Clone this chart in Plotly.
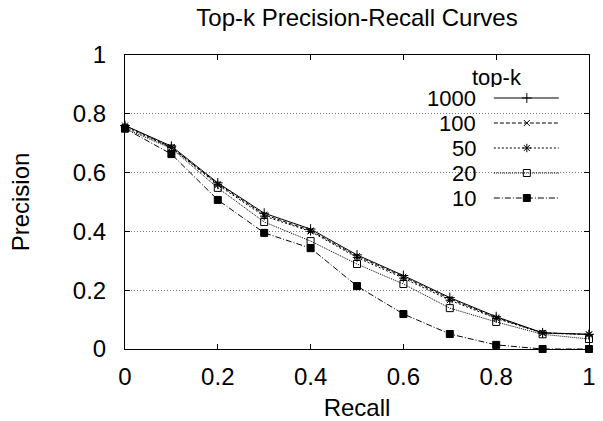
import plotly.graph_objects as go

recall = [0.0, 0.1, 0.2, 0.3, 0.4, 0.5, 0.6, 0.7, 0.8, 0.9, 1.0]
p_1000 = [0.76, 0.69, 0.565, 0.462, 0.408, 0.32, 0.25, 0.175, 0.11, 0.055, 0.05]
p_100 = [0.76, 0.686, 0.562, 0.457, 0.403, 0.316, 0.246, 0.171, 0.107, 0.055, 0.05]
p_50 = [0.755, 0.685, 0.558, 0.452, 0.4, 0.311, 0.241, 0.166, 0.104, 0.054, 0.049]
p_20 = [0.75, 0.682, 0.548, 0.432, 0.367, 0.289, 0.221, 0.139, 0.092, 0.05, 0.034]
p_10 = [0.75, 0.663, 0.507, 0.395, 0.343, 0.214, 0.119, 0.051, 0.014, 0.0, 0.0]
series_names = ["1000", "100", "50", "20", "10"]
tick_vals = [0, 0.2, 0.4, 0.6, 0.8, 1]
tick_text = ["0", "0.2", "0.4", "0.6", "0.8", "1"]

series = [p_1000, p_100, p_50, p_20, p_10]
dashes = ["solid", "4px,2px", "2px,2px", "1px,1px", "6px,2px,1px,2px"]
symbols = ["cross-thin", "x-thin", "asterisk", "square-open", "square"]
msizes = [7, 6, 7, 7, 7]

FONT = "Liberation Sans, Arial, Helvetica, sans-serif"
FS = 24
LFS = 22
fig = go.Figure()

for name, vals, d, s, ms in zip(series_names, series, dashes, symbols, msizes):
    fig.add_trace(go.Scatter(
        x=recall, y=vals, mode="lines+markers", name=name,
        line=dict(color="black", width=1, dash=d),
        marker=dict(symbol=s, size=ms, color="black",
                    line=dict(color="black", width=1)),
        cliponaxis=False, showlegend=False,
    ))

# Manual gnuplot-style key (text left of sample), in an overlay axis [0,1]
leg_rows = [0.8537, 0.7687, 0.6837, 0.5986, 0.5136]
sx0, sx1, smid, tx = 0.795, 0.935, 0.866, 0.759
for name, yr, d, s, ms in zip(series_names, leg_rows, dashes, symbols, msizes):
    fig.add_trace(go.Scatter(
        x=[sx0, sx1], y=[yr, yr], mode="lines", xaxis="x2", yaxis="y2",
        line=dict(color="black", width=1, dash=d), showlegend=False,
        hoverinfo="skip"))
    fig.add_trace(go.Scatter(
        x=[smid], y=[yr], mode="markers", xaxis="x2", yaxis="y2",
        marker=dict(symbol=s, size=ms, color="black",
                    line=dict(color="black", width=1)),
        showlegend=False, hoverinfo="skip"))
    fig.add_annotation(x=tx, y=yr, xref="paper", yref="paper", text=name,
                       showarrow=False, xanchor="right", yanchor="middle",
                       height=20, borderpad=0,
                       font=dict(size=LFS, color="black", family=FONT))
fig.add_annotation(x=0.802, y=0.925, xref="paper", yref="paper", text="top-k",
                   showarrow=False, xanchor="center", yanchor="middle",
                   height=20, borderpad=0,
                   font=dict(size=LFS, color="black", family=FONT))
fig.add_shape(type="rect", xref="paper", yref="paper", x0=0.631, x1=0.966,
              y0=0.473, y1=0.976, fillcolor="white", line=dict(width=0),
              layer="between")

axis_common = dict(range=[0, 1], tickvals=tick_vals, ticktext=tick_text,
                   showline=True, linecolor="black", linewidth=1,
                   mirror="ticks", ticks="inside", ticklen=5, tickcolor="black",
                   zeroline=False, automargin=False,
                   tickfont=dict(size=FS, color="black", family=FONT))

fig.update_layout(
    width=603, height=421,
    margin=dict(l=125, r=14, t=55, b=72, autoexpand=False),
    paper_bgcolor="white", plot_bgcolor="white",
    font=dict(family=FONT, color="black", size=FS),
    title=dict(text="Top-k Precision-Recall Curves", xref="paper", x=0.5,
               xanchor="center", y=1 - 18 / 421, yanchor="middle",
               font=dict(size=FS, color="black", family=FONT)),
    xaxis=dict(**axis_common, showgrid=False, ticklabelstandoff=6,
               title=dict(text="Recall", standoff=12,
                          font=dict(size=FS, family=FONT))),
    yaxis=dict(**axis_common, showgrid=True, gridcolor="#777777",
               griddash="1px,2px", gridwidth=1, ticklabelstandoff=13,
               title=dict(text="Precision", standoff=36,
                          font=dict(size=FS, family=FONT))),
    xaxis2=dict(range=[0, 1], overlaying="x", visible=False, fixedrange=True),
    yaxis2=dict(range=[0, 1], overlaying="y", visible=False, fixedrange=True),
)

fig.write_html("out.html", config={"displayModeBar": False},
               post_script="document.body.style.margin='0';"
                           "document.body.style.padding='0';")
